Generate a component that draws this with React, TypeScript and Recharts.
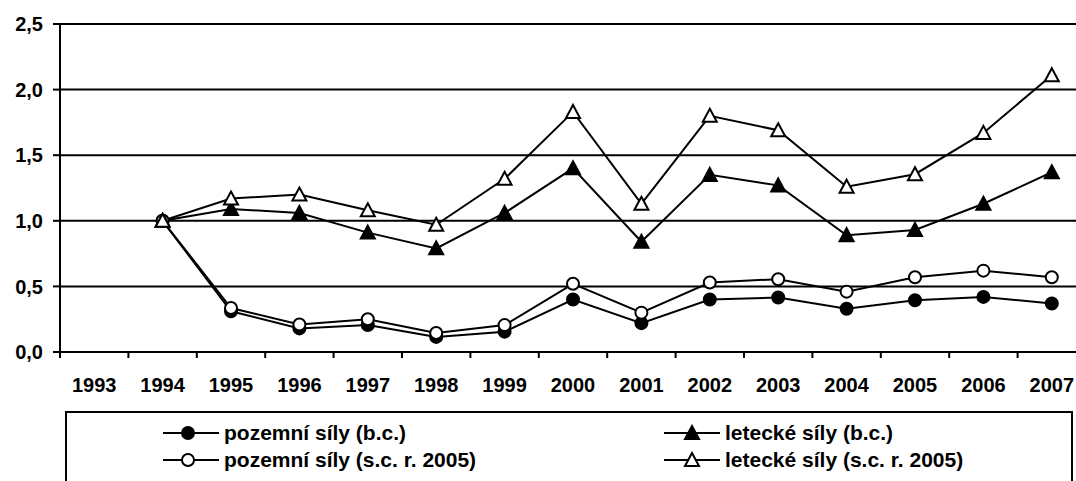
import React from 'react';
import { LineChart, Line, XAxis, YAxis, CartesianGrid } from 'recharts';

const YEARS = [1993, 1994, 1995, 1996, 1997, 1998, 1999, 2000, 2001, 2002, 2003, 2004, 2005, 2006, 2007];
const POZEMNI_BC = [null, 1.0, 0.31, 0.18, 0.205, 0.115, 0.155, 0.4, 0.22, 0.4, 0.415, 0.33, 0.395, 0.42, 0.37];
const POZEMNI_SC = [null, 1.0, 0.335, 0.21, 0.25, 0.145, 0.205, 0.52, 0.3, 0.53, 0.555, 0.46, 0.57, 0.62, 0.57];
const LETECKE_BC = [null, 1.0, 1.09, 1.06, 0.91, 0.79, 1.06, 1.4, 0.84, 1.35, 1.27, 0.89, 0.93, 1.13, 1.37];
const LETECKE_SC = [null, 1.0, 1.17, 1.2, 1.08, 0.97, 1.32, 1.83, 1.13, 1.8, 1.69, 1.26, 1.355, 1.67, 2.11];
const Y_TICKS = [0, 0.5, 1, 1.5, 2, 2.5];
const SERIES_NAMES = ['pozemní síly (b.c.)', 'letecké síly (b.c.)', 'pozemní síly (s.c. r. 2005)', 'letecké síly (s.c. r. 2005)'];

const data = YEARS.map((year, i) => ({
  year,
  pozBc: POZEMNI_BC[i],
  pozSc: POZEMNI_SC[i],
  letBc: LETECKE_BC[i],
  letSc: LETECKE_SC[i],
}));

const FONT = '"Liberation Sans", Arial, sans-serif';
const CHART_W = 1100;
const MARGIN = { top: 24, right: 14, left: 0, bottom: 89 };
const Y_W = 60;
const PLOT_W = CHART_W - MARGIN.right - MARGIN.left - Y_W;

const XTick = (props: any) => {
  const { x, y, payload } = props;
  const w = typeof props.width === 'number' && props.width > 0 ? props.width : PLOT_W;
  const half = w / YEARS.length / 2;
  return (
    <g>
      <line x1={x - half} x2={x - half} y1={y} y2={y + 6} stroke="#000" strokeWidth={2} />
      <text x={x} y={y + 39.5} textAnchor="middle" fill="#000" fontSize={20} fontWeight="bold" fontFamily={FONT}>
        {payload.value}
      </text>
    </g>
  );
};

const circleDot = (filled: boolean) => (props: any) => {
  const { cx, cy, index } = props;
  if (cx == null || cy == null || props.value == null) return <g key={`d${index}`} />;
  return <circle key={`d${index}`} cx={cx} cy={cy} r={6} fill={filled ? '#000' : '#fff'} stroke="#000" strokeWidth={2} />;
};

const triPath = (cx: number, cy: number) => `M${cx},${cy - 7}L${cx + 7},${cy + 6}L${cx - 7},${cy + 6}Z`;

const triDot = (filled: boolean) => (props: any) => {
  const { cx, cy, index } = props;
  if (cx == null || cy == null || props.value == null) return <g key={`t${index}`} />;
  return <path key={`t${index}`} d={triPath(cx, cy)} fill={filled ? '#000' : '#fff'} stroke="#000" strokeWidth={2} strokeLinejoin="miter" />;
};

const LegendSymbol = ({ kind }: { kind: string }) => (
  <svg width={56} height={18} style={{ display: 'block' }}>
    <line x1={0} x2={56} y1={9} y2={9} stroke="#000" strokeWidth={2} />
    {kind === 'fc' && <circle cx={25} cy={9} r={6} fill="#000" stroke="#000" strokeWidth={2} />}
    {kind === 'oc' && <circle cx={25} cy={9} r={6} fill="#fff" stroke="#000" strokeWidth={2} />}
    {kind === 'ft' && <path d={triPath(28, 9)} fill="#000" stroke="#000" strokeWidth={2} />}
    {kind === 'ot' && <path d={triPath(28, 9)} fill="#fff" stroke="#000" strokeWidth={2} />}
  </svg>
);

const LEGEND_ITEMS = [
  { name: SERIES_NAMES[0], kind: 'fc', left: 96, top: 20 },
  { name: SERIES_NAMES[1], kind: 'ft', left: 597, top: 20 },
  { name: SERIES_NAMES[2], kind: 'oc', left: 96, top: 47 },
  { name: SERIES_NAMES[3], kind: 'ot', left: 597, top: 47 },
];

export default function App() {
  return (
    <div style={{ position: 'fixed', left: 0, top: 0, width: 1076, height: 481, overflow: 'hidden', background: '#fff' }}>
      <LineChart width={CHART_W} height={481} data={data} margin={MARGIN}>
        <CartesianGrid vertical={false} stroke="#000" strokeWidth={2} />
        <XAxis
          dataKey="year"
          type="number"
          domain={[1992.5, 2007.5]}
          ticks={YEARS}
          interval={0}
          tick={<XTick />}
          tickLine={false}
          tickSize={0}
          tickMargin={0}
          axisLine={{ stroke: '#000', strokeWidth: 2 }}
          height={40}
          allowDataOverflow
        />
        <YAxis
          domain={[0, 2.5]}
          ticks={Y_TICKS}
          interval={0}
          width={Y_W}
          tickSize={7}
          tickMargin={10}
          tickLine={{ stroke: '#000', strokeWidth: 2 }}
          axisLine={{ stroke: '#000', strokeWidth: 2 }}
          tick={{ fill: '#000', fontSize: 20, fontWeight: 'bold', fontFamily: FONT }}
          tickFormatter={(v: number) => v.toFixed(1).replace('.', ',')}
          allowDataOverflow
        />
        <Line dataKey="pozBc" name={SERIES_NAMES[0]} stroke="#000" strokeWidth={2} dot={circleDot(true)} activeDot={false} isAnimationActive={false} />
        <Line dataKey="pozSc" name={SERIES_NAMES[2]} stroke="#000" strokeWidth={2} dot={circleDot(false)} activeDot={false} isAnimationActive={false} />
        <Line dataKey="letBc" name={SERIES_NAMES[1]} stroke="#000" strokeWidth={2} dot={triDot(true)} activeDot={false} isAnimationActive={false} />
        <Line dataKey="letSc" name={SERIES_NAMES[3]} stroke="#000" strokeWidth={2} dot={triDot(false)} activeDot={false} isAnimationActive={false} />
      </LineChart>
      <div
        style={{
          position: 'absolute',
          left: 65,
          top: 411,
          width: 1008,
          height: 110,
          border: '2px solid #000',
          boxSizing: 'border-box',
          fontFamily: FONT,
        }}
      >
        {LEGEND_ITEMS.map((it) => (
          <div
            key={it.name}
            style={{
              position: 'absolute',
              left: it.left,
              top: it.top - 13,
              height: 26,
              display: 'flex',
              alignItems: 'center',
              whiteSpace: 'nowrap',
            }}
          >
            <LegendSymbol kind={it.kind} />
            <span style={{ marginLeft: 5, fontSize: 21, fontWeight: 'bold', color: '#000', lineHeight: '26px' }}>{it.name}</span>
          </div>
        ))}
      </div>
    </div>
  );
}
